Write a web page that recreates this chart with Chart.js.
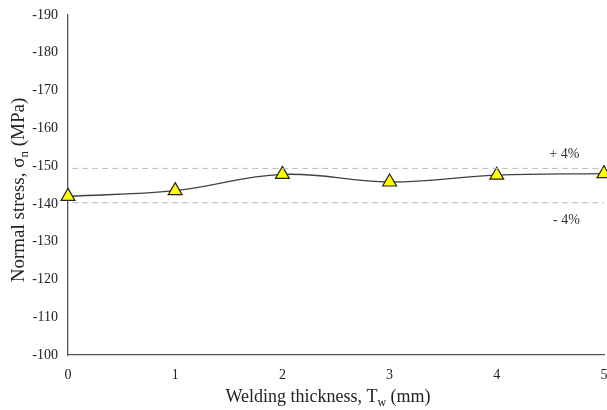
<!DOCTYPE html>
<html>
<head>
<meta charset="utf-8">
<script src="https://cdn.jsdelivr.net/npm/chart.js@4.4.1/dist/chart.umd.min.js"></script>
<style>
   html, body { margin: 0; padding: 0; background: #fff; }
   #wrap { width: 607px; height: 410px; }
</style>
</head>
<body>
<div id="wrap"><canvas id="stressChart"></canvas></div>
<script>
// data
const thickness = [0, 1, 2, 3, 4, 5];
const normalStress = [-142, -143.5, -147.8, -145.8, -147.6, -148];
const upperBand = -149.4;
const lowerBand = -140.3;
const bandLabels = ["+ 4%", "- 4%"];
const bandLabelX = [4.63, 4.65];
const bandLabelY = [-153.2, -135.7];
const yTicks = [-190, -180, -170, -160, -150, -140, -130, -120, -110, -100];

const serif = "'Liberation Serif', 'Times New Roman', serif";

// axis titles with subscripts, drawn by hand
const titlePlugin = {
   id: "titles",
   afterDraw(chart) {
      const ctx = chart.ctx;
      ctx.save();
      ctx.fillStyle = "#222";
      ctx.textBaseline = "alphabetic";

      // x title
      const big = "18px " + serif;
      const small = "12px " + serif;
      const parts = [["Welding thickness, T", big, 0], ["w", small, 4], [" (mm)", big, 0]];
      let total = 0;
      parts.forEach((p) => { ctx.font = p[1]; total += ctx.measureText(p[0]).width; });
      let x = 328 - total / 2;
      const y = 402;
      parts.forEach((p) => {
         ctx.font = p[1];
         ctx.fillText(p[0], x, y + p[2]);
         x += ctx.measureText(p[0]).width;
      });

      // y title (rotated)
      const ybig = "19px " + serif;
      const ysmall = "13px " + serif;
      const yparts = [["Normal stress, σ", ybig, 0], ["n", ysmall, 4], [" (MPa)", ybig, 0]];
      total = 0;
      yparts.forEach((p) => { ctx.font = p[1]; total += ctx.measureText(p[0]).width; });
      ctx.translate(24, 190);
      ctx.rotate(-Math.PI / 2);
      x = -total / 2;
      yparts.forEach((p) => {
         ctx.font = p[1];
         ctx.fillText(p[0], x, p[2]);
         x += ctx.measureText(p[0]).width;
      });
      ctx.restore();

      // band labels
      ctx.save();
      ctx.font = "14px " + serif;
      ctx.fillStyle = "#333";
      ctx.textAlign = "center";
      ctx.textBaseline = "middle";
      bandLabels.forEach((t, i) => {
         ctx.fillText(t, chart.scales.x.getPixelForValue(bandLabelX[i]), chart.scales.y.getPixelForValue(bandLabelY[i]));
      });
      ctx.restore();
   },
};

new Chart(document.getElementById("stressChart"), {
   type: "line",
   data: {
      datasets: [
         {
            label: "+4%",
            data: [{ x: 0.04, y: upperBand }, { x: 5, y: upperBand }],
            borderColor: "#b8b8b8",
            borderWidth: 1,
            borderDash: [6, 4],
            pointRadius: 0,
         },
         {
            label: "-4%",
            data: [{ x: 0.04, y: lowerBand }, { x: 5, y: lowerBand }],
            borderColor: "#b8b8b8",
            borderWidth: 1,
            borderDash: [6, 4],
            pointRadius: 0,
         },
         {
            label: "Normal stress",
            data: thickness.map((t, i) => ({ x: t, y: normalStress[i] })),
            borderColor: "#404040",
            borderWidth: 1.3,
            tension: 0.4,
            pointStyle: "triangle",
            pointRadius: 8,
            pointBackgroundColor: "#ffff00",
            pointBorderColor: "#222",
            pointBorderWidth: 1.2,
            clip: false,
         },
      ],
   },
   options: {
      responsive: true,
      maintainAspectRatio: false,
      animation: false,
      layout: { autoPadding: false, padding: { top: 15, right: 3, left: 0, bottom: 0 } },
      plugins: {
         legend: { display: false },
         tooltip: { enabled: false },
      },
      scales: {
         x: {
            type: "linear",
            min: 0,
            max: 5,
            grid: { display: false, drawTicks: false },
            border: { color: "#555", width: 1.3 },
            ticks: {
               stepSize: 1,
               padding: 12,
               color: "#222",
               font: { family: serif, size: 14 },
            },
            afterFit: (scale) => {
               scale.height = 55;
               scale.paddingLeft = 0;
               scale.paddingRight = 0;
            },
         },
         y: {
            type: "linear",
            reverse: true,
            min: -190,
            max: -100,
            grid: { display: false, drawTicks: false },
            border: { color: "#555", width: 1.3 },
            afterBuildTicks: (scale) => {
               scale.ticks = yTicks.map((v) => ({ value: v }));
            },
            ticks: {
               padding: 10,
               color: "#222",
               font: { family: serif, size: 14 },
            },
            afterFit: (scale) => {
               scale.width = 68;
               scale.paddingTop = 0;
               scale.paddingBottom = 0;
            },
         },
      },
   },
   plugins: [titlePlugin],
});
</script>
</body>
</html>
